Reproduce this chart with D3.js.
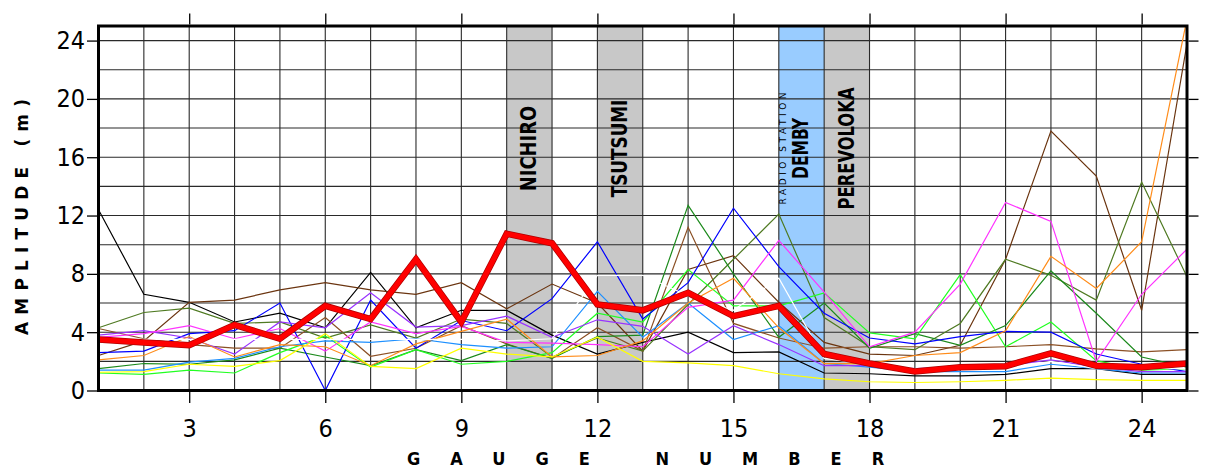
<!DOCTYPE html>
<html>
<head>
<meta charset="utf-8">
<script src="https://cdn.jsdelivr.net/npm/d3@7/dist/d3.min.js"></script>
<style>
  body { margin: 0; background: #fff; }
  svg { display: block; }
</style>
</head>
<body>
<div id="chart"></div>
<script>
var width = 1206,
    height = 469,
    margin = {top: 26, right: 19, bottom: 79, left: 98}; // plot box inside the svg

// gauge numbers along the x axis
var gauges = [1, 2, 3, 4, 5, 6, 7, 8, 9, 10, 11, 12, 13, 14, 15, 16, 17, 18, 19, 20, 21, 22, 23, 24, 25];
var xTicks = [3, 6, 9, 12, 15, 18, 21, 24];
var yTicks = [0, 4, 8, 12, 16, 20, 24];

// amplitude (m) per gauge, one array per simulation run
var runBlack   = [12.4, 6.6, 6.05, 4.7, 5.3, 4.3, 8.1, 4.3, 5.5, 5.5, 3.8, 2.5, 3.3, 4.0, 2.6, 2.65, 1.2, 1.15, 1.0, 1.0, 1.1, 1.5, 1.5, 1.1, 1.1];
var runBrownA  = [2.4, 3.4, 6.05, 6.2, 6.9, 7.4, 6.9, 6.6, 7.4, 5.6, 7.3, 6.0, 2.7, 8.3, 9.25, 6.05, 3.3, 2.5, 2.4, 3.1, 9.0, 17.8, 14.7, 5.5, 23.8];
var runBrownB  = [4.25, 3.55, 3.15, 2.9, 2.9, 5.0, 2.35, 2.9, 4.45, 3.2, 2.2, 4.3, 2.7, 11.2, 4.6, 3.6, 2.9, 3.0, 3.0, 2.9, 3.0, 3.15, 2.85, 2.65, 2.8];
var runOlive   = [4.3, 5.35, 5.65, 4.6, 4.7, 3.6, 4.5, 3.6, 4.9, 4.6, 2.3, 3.6, 2.7, 5.9, 9.0, 12.1, 5.0, 3.0, 2.8, 4.6, 9.0, 7.9, 6.2, 14.3, 7.8];
var runGreen   = [1.5, 1.85, 1.8, 2.1, 2.9, 2.3, 1.7, 2.8, 2.05, 3.15, 2.2, 3.7, 3.8, 12.7, 8.0, 3.65, 6.0, 2.9, 3.9, 3.1, 4.45, 8.2, 5.3, 2.3, 1.6];
var runLime    = [1.2, 1.1, 1.4, 1.2, 2.6, 3.75, 1.6, 2.8, 1.8, 2.0, 2.6, 5.3, 4.7, 8.3, 5.8, 5.8, 6.7, 3.95, 3.55, 7.95, 3.0, 4.7, 2.05, 1.4, 1.5];
var runBlue    = [2.6, 2.7, 3.9, 4.1, 6.0, 0.0, 6.2, 2.9, 4.8, 4.1, 6.3, 10.2, 4.9, 7.4, 12.5, 8.5, 5.3, 3.6, 3.2, 3.7, 4.05, 4.0, 2.5, 1.8, 1.3];
var runSky     = [1.4, 1.4, 1.95, 2.2, 3.0, 3.4, 3.3, 3.55, 3.15, 2.9, 3.0, 6.8, 3.65, 6.0, 3.5, 4.45, 1.85, 1.6, 1.3, 1.3, 1.3, 1.8, 1.5, 1.2, 1.2];
var runPurple  = [3.8, 4.1, 3.6, 2.5, 4.7, 4.3, 6.7, 4.35, 4.45, 5.1, 3.65, 4.85, 4.4, 2.5, 4.45, 3.15, 1.7, 1.7, 1.5, 1.6, 1.7, 2.1, 1.6, 1.3, 1.3];
var runMagenta = [3.65, 3.9, 4.45, 3.55, 4.25, 2.7, 4.7, 3.9, 4.4, 3.3, 3.25, 3.15, 3.0, 5.7, 6.2, 10.3, 6.75, 3.0, 4.0, 7.3, 12.9, 11.6, 2.0, 6.6, 9.7];
var runOrange  = [2.1, 2.4, 3.7, 2.3, 3.15, 3.0, 1.7, 3.2, 4.05, 4.9, 2.3, 2.4, 3.4, 6.0, 7.7, 4.3, 1.85, 1.85, 2.4, 2.6, 4.1, 9.2, 7.0, 10.2, 25.5];
var runYellow  = [1.25, 1.3, 1.8, 1.65, 2.05, 3.9, 1.65, 1.5, 2.9, 2.5, 2.3, 3.65, 2.0, 1.9, 1.7, 1.15, 0.8, 0.6, 0.55, 0.6, 0.7, 0.85, 0.75, 0.7, 0.7];
var runWhite   = [3.5, 3.5, 3.5, 3.5, 3.5, 3.5, 3.5, 3.5, 3.5, 3.4, 3.55, 7.9, 7.9, 6.5, 5.5, 7.7, 2.2, 1.8, 1.5, 1.5, 1.5, 2.0, 1.5, 1.5, 1.5];
// the thick red line: mean of the runs
var meanAmp    = [3.5, 3.3, 3.1, 4.5, 3.55, 5.8, 4.9, 9.0, 4.7, 10.75, 10.1, 5.9, 5.5, 6.7, 5.1, 5.8, 2.5, 1.85, 1.3, 1.6, 1.67, 2.55, 1.7, 1.6, 1.85];

var runs = [runBlack, runBrownA, runBrownB, runOlive, runGreen, runLime, runBlue, runSky,
            runPurple, runMagenta, runOrange, runYellow, runWhite];
var runColors = ["#000000", "#6b3510", "#8b5025", "#4f7a22", "#1c8a1c", "#22ff22", "#0000ff", "#1e90ff",
                 "#9933ff", "#ff33ff", "#ff8c1a", "#ffff00", "#ffffff"];

// shaded gauge intervals (villages / station)
var bandFrom   = [10, 12, 16, 17];
var bandTo     = [11, 13, 17, 18];
var bandFill   = ["#c8c8c8", "#c8c8c8", "#99ccff", "#c8c8c8"];
var bandLabels = ["NICHIRO", "TSUTSUMI", "DEMBY", "PEREVOLOKA"];

var svg = d3.select("#chart").append("svg")
  .attr("width", width)
  .attr("height", height);

var x = d3.scaleLinear().domain([1, 25]).range([margin.left + 0.5, width - margin.right]);
var y = d3.scaleLinear().domain([0, 25]).range([height - margin.bottom + 0.5, margin.top]);

var plotW = x(25) - x(1), plotH = y(0) - y(25);

svg.append("clipPath").attr("id", "plot-clip")
  .append("rect")
  .attr("x", x(1)).attr("y", y(25))
  .attr("width", plotW).attr("height", plotH);

// bands first, grid goes over them
svg.selectAll("rect.band")
  .data(bandFrom)
  .enter()
  .append("rect")
  .attr("class", "band")
  .attr("x", function(d) { return x(d); })
  .attr("y", y(25))
  .attr("width", function(d, i) { return x(bandTo[i]) - x(d); })
  .attr("height", plotH)
  .attr("fill", function(d, i) { return bandFill[i]; });

// grid: every gauge vertically, every 2 m horizontally
var grid = svg.append("g").attr("stroke", "#2a2a2a").attr("stroke-width", 1.1);
grid.selectAll("line.v")
  .data(gauges)
  .enter()
  .append("line")
  .attr("x1", function(d) { return x(d); })
  .attr("x2", function(d) { return x(d); })
  .attr("y1", y(0))
  .attr("y2", y(25));
grid.selectAll("line.h")
  .data(d3.range(0, 25, 2))
  .enter()
  .append("line")
  .attr("y1", function(d) { return y(d); })
  .attr("y2", function(d) { return y(d); })
  .attr("x1", x(1))
  .attr("x2", x(25));

// band labels, rotated
var labelY = y(16.6);
svg.selectAll("text.band-label")
  .data(bandLabels)
  .enter()
  .append("text")
  .attr("transform", function(d, i) {
    var cx = (x(bandFrom[i]) + x(bandTo[i])) / 2 + 7;
    return "translate(" + cx + "," + labelY + ") rotate(-90)";
  })
  .attr("text-anchor", "middle")
  .attr("font-family", "'DejaVu Sans Condensed', 'DejaVu Sans', sans-serif")
  .attr("font-weight", "bold")
  .attr("font-size", 21)
  .attr("textLength", function(d) { return d.length * 12.2; })
  .attr("lengthAdjust", "spacingAndGlyphs")
  .text(function(d) { return d; });

svg.append("text")
  .attr("transform", "translate(" + (x(16) + 7) + "," + (labelY) + ") rotate(-90)")
  .attr("text-anchor", "middle")
  .attr("font-family", "'DejaVu Sans', sans-serif")
  .attr("font-size", 9)
  .attr("textLength", 112)
  .attr("lengthAdjust", "spacing")
  .text("RADIO STATION");

// the runs
var line = d3.line()
  .x(function(d, i) { return x(gauges[i]); })
  .y(function(d) { return y(d); });

var lines = svg.append("g").attr("clip-path", "url(#plot-clip)");
lines.selectAll("path.run")
  .data(runs)
  .enter()
  .append("path")
  .attr("d", line)
  .attr("fill", "none")
  .attr("stroke", function(d, i) { return runColors[i]; })
  .attr("stroke-width", 1.2)
  .attr("stroke-linejoin", "miter");

lines.append("path")
  .attr("d", line(meanAmp))
  .attr("fill", "none")
  .attr("stroke", "#b00000")
  .attr("stroke-width", 6.5);
lines.append("path")
  .attr("d", line(meanAmp))
  .attr("fill", "none")
  .attr("stroke", "#ff0000")
  .attr("stroke-width", 5);

// frame
svg.append("rect")
  .attr("x", x(1)).attr("y", y(25))
  .attr("width", plotW).attr("height", plotH)
  .attr("fill", "none")
  .attr("stroke", "#000")
  .attr("stroke-width", 3);

// axes (ticks outside, on all four sides)
var tickFont = "'Liberation Sans Narrow', 'DejaVu Sans Condensed', sans-serif";

var axBottom = svg.append("g")
  .attr("transform", "translate(0," + (y(0) + 1.5) + ")")
  .call(d3.axisBottom(x).tickValues(xTicks).tickSize(11).tickPadding(16).tickFormat(d3.format("d")));
var axTop = svg.append("g")
  .attr("transform", "translate(0," + (y(25) - 1.5) + ")")
  .call(d3.axisTop(x).tickValues(xTicks).tickSize(11).tickFormat(""));
var axLeft = svg.append("g")
  .attr("transform", "translate(" + (x(1) - 1.5) + ",0)")
  .call(d3.axisLeft(y).tickValues(yTicks).tickSize(10).tickPadding(2).tickFormat(d3.format("d")));
var axRight = svg.append("g")
  .attr("transform", "translate(" + (x(25) + 1.5) + ",0)")
  .call(d3.axisRight(y).tickValues(yTicks).tickSize(10).tickFormat(""));

[axBottom, axTop, axLeft, axRight].forEach(function(ax) {
  ax.select(".domain").remove();
  ax.selectAll(".tick line").attr("stroke", "#000").attr("stroke-width", 1.3);
  ax.selectAll("text")
    .attr("fill", "#000")
    .attr("font-family", tickFont)
    .attr("font-size", 25);
});

// axis titles, letter spaced (wider gap between the two words)
svg.append("text")
  .attr("x", 407)
  .attr("y", 465)
  .attr("font-family", "'DejaVu Sans Condensed', 'DejaVu Sans', sans-serif")
  .attr("font-weight", "bold")
  .attr("font-size", 18)
  .attr("letter-spacing", 30)
  .text("GAUGE NUMBER");

svg.append("text")
  .attr("transform", "translate(28," + 217 + ") rotate(-90)")
  .attr("text-anchor", "middle")
  .attr("font-family", "'DejaVu Sans', sans-serif")
  .attr("font-weight", "bold")
  .attr("font-size", 17)
  .attr("textLength", 236)
  .attr("lengthAdjust", "spacing")
  .text("AMPLITUDE (m)");
</script>
</body>
</html>
